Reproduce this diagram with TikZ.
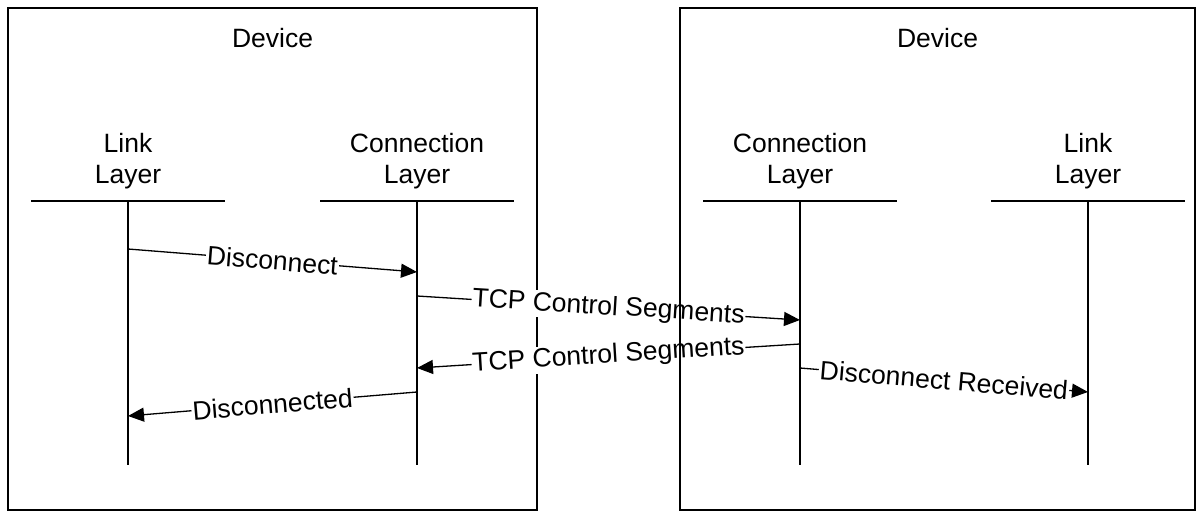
\documentclass[tikz,border=0pt]{standalone}
\usepackage{fontspec}
\setmainfont{Liberation Sans}
\usetikzlibrary{arrows.meta}

\begin{document}
\begin{tikzpicture}[x=1pt,y=-1pt,
	rahmen/.style={line width=1.6pt},
	lebenslinie/.style={line width=1.7pt},
	nachricht/.style={-{Triangle[length=16pt,width=14pt]},line width=1.3pt},
	beschriftung/.style={midway,sloped,fill=white,inner sep=1pt}]
\fontsize{26.5}{31}\selectfont

\useasboundingbox (0,0) rectangle (1203,513);

\def\linkA{128}
\def\connA{417}
\def\connB{800}
\def\linkB{1088}

\def\schicht#1#2#3{
	\node[align=center] (#1) at (#2,161) {#3};
	\coordinate (#1-oben) at (#2,201);
	\coordinate (#1-unten) at (#2,465);
	\draw[lebenslinie] (#2-97,201)--(#2+97,201);
	\draw[lebenslinie] (#1-oben)--(#1-unten);
}

% linkes Geraet
\draw[rahmen] (8,8) rectangle (537,510);
\node (geraetA) at (272.5,38) {Device};

\schicht{linkA}{\linkA}{Link\\Layer}
\schicht{connA}{\connA}{Connection\\Layer}
\schicht{connB}{\connB}{Connection\\Layer}
\schicht{linkB}{\linkB}{Link\\Layer}

% Nachrichten
\coordinate (m1a) at (\linkA,249);  \coordinate (m1b) at (\connA,272);
\coordinate (m2a) at (\connA,296);  \coordinate (m2b) at (\connB,320);
\coordinate (m3a) at (\connB,344);  \coordinate (m3b) at (\connA,368);
\coordinate (m4a) at (\connB,368);  \coordinate (m4b) at (\linkB,392);
\coordinate (m5a) at (\connA,392);  \coordinate (m5b) at (\linkA,416);

\draw[nachricht] (m1a)--(m1b) node[beschriftung] {Disconnect};
\draw[nachricht] (m2a)--(m2b) node[beschriftung] {TCP Control Segments};
\draw[nachricht] (m3a)--(m3b) node[beschriftung] {TCP Control Segments};
\draw[nachricht] (m4a)--(m4b) node[beschriftung] {Disconnect Received};
\draw[nachricht] (m5a)--(m5b) node[beschriftung] {Disconnected};

% rechtes Geraet
\draw[rahmen] (680,8) rectangle (1195,510);
\node (geraetB) at (937.5,38) {Device};

\end{tikzpicture}
\end{document}
